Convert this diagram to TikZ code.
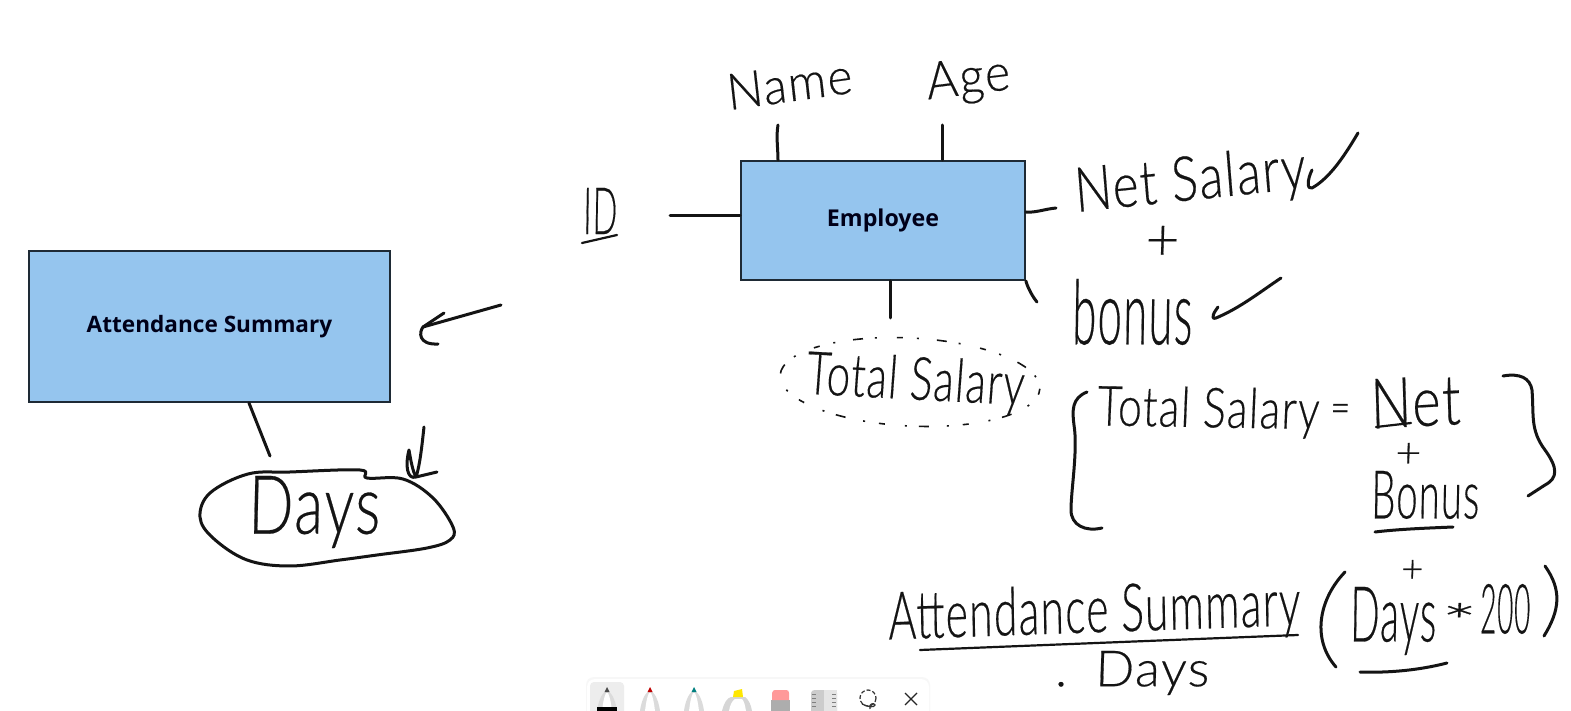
\documentclass[tikz,border=0pt]{standalone}
\usepackage{fontspec}
\usepackage{graphicx}
\setmainfont{Liberation Sans}
\newfontfamily\handf[FakeSlant=0.03,FakeBold=0.35,LetterSpace=3]{Lato Light}
\newfontfamily\boxf{Open Sans}
\newdimen\pxu \pxu=0.5pt
\newcommand{\hwn}[3]{\resizebox*{#1\pxu}{#2\pxu}{\handf #3}}
\definecolor{boxblue}{HTML}{95C5EE}
\definecolor{boxedge}{HTML}{1E2A35}
\definecolor{inkc}{HTML}{141414}
\tikzset{
  entity/.style={draw=boxedge,line width=1pt,fill=boxblue,inner sep=0pt,text=black!90!blue},
  ink/.style={draw=inkc,line width=1.5pt,line cap=round,line join=round},
  thinink/.style={draw=inkc,line width=1.1pt,line cap=round,line join=round},
  hand/.style={inner sep=0pt,outer sep=0pt,text=inkc},
}
\begin{document}
\begin{tikzpicture}[x=0.5pt,y=-0.5pt]
\useasboundingbox (0,0) rectangle (1571,711);
\fill[white] (0,0) rectangle (1571,711);
% left part
\node[entity,minimum width=180.5pt,minimum height=75.5pt,font=\boxf\bfseries\fontsize{11.3}{13}\selectfont] (att) at (209.5,326.5) {\raisebox{-1pt}{Attendance Summary}};
\node[hand] (dayl) at (314,512) {\hwn{132}{72}{Days}};
\coordinate (dayEnd) at (270,456);
\coordinate (arrowTail) at (501,305);
\coordinate (arrowTip) at (423,327);
\draw[ink] (att.south -| 249,0) -- (dayEnd);
\draw[ink] (arrowTail) -- (arrowTip);
\draw[ink] (444,313) -- (arrowTip) .. controls (419,332) and (418,345) .. (438,344);
\draw[ink] (424,427) .. controls (422,445) and (420,465) .. (416,477) .. controls (407,480) and (405,465) .. (409,450) .. controls (411,462) and (413,472) .. (416,477) -- (437,472);
\draw[ink] plot[smooth cycle,tension=0.6] coordinates {(248,474) (290,472) (360,470) (367,478) (403,479) (433,498) (453,527) (450,540) (427,548) (377,555) (340,560) (290,566) (247,560) (213,538) (200,517) (210,493)};
% middle and right part
\begin{scope}[shift={(2,1)}]
\node[entity,minimum width=142pt,minimum height=59.5pt,font=\boxf\bfseries\fontsize{11.6}{13}\selectfont] (emp) at (881,219.5) {\raisebox{-1.5pt}{Employee}};
\node[hand,rotate=8] (name) at (787,83) {\hwn{126}{36}{Name}};
\node[hand,rotate=7] (age) at (966,80) {\hwn{84}{46}{Age}};
\node[hand] (idl) at (598,210) {\hwn{34}{46}{ID}};
\node[hand,rotate=6] (net) at (1188,182) {\hwn{232}{56}{Net Salary}};
\node[hand] (p1) at (1160,242) {\hwn{34}{34}{+}};
\node[hand] (bonus) at (1130,311) {\hwn{120}{66}{bonus}};
\node[hand,rotate=-3] (total) at (913,382) {\hwn{218}{54}{Total Salary}};
\node[hand,rotate=-1] (totf) at (1206,411) {\hwn{222}{50}{Total Salary}};
\node[hand] (eq) at (1338,412) {\hwn{20}{18}{=}};
\node[hand,rotate=3] (netf) at (1413,401) {\hwn{90}{50}{Net}};
\node[hand] (p2) at (1406,454) {\hwn{26}{24}{+}};
\node[hand] (bonf) at (1423,494) {\hwn{108}{48}{Bonus}};
\node[hand,rotate=2] (asum) at (1092,613) {\hwn{412}{60}{Attendance Summary}};
\node[hand] (dayb) at (1130,672) {\hwn{154}{44}{.\kern0.55em Days}};
\node[hand] (dayf) at (1391,620) {\hwn{86}{68}{Days}};
\node[hand] (p3) at (1410,570) {\hwn{22}{22}{+}};
\node[hand] (st) at (1456,620) {\hwn{36}{36}{*}};
\node[hand] (two) at (1503,608) {\hwn{50}{50}{200}};
% connectors
\coordinate (nameEnd) at (776,124);
\coordinate (ageEnd) at (940,124);
\coordinate (idEnd) at (668,215);
\coordinate (totEnd) at (888,317);
\coordinate (netEnd) at (1054,207);
\coordinate (bonEnd) at (1035,301);
\draw[ink] (nameEnd) .. controls (774,135) and (776,148) .. (nameEnd |- emp.north);
\draw[ink] (ageEnd) -- (ageEnd |- emp.north);
\draw[ink] (idEnd) -- (emp.west |- idEnd);
\draw[ink] (totEnd) -- (totEnd |- emp.south);
\draw[ink] (netEnd) .. controls (1043,208) and (1033,212) .. (emp.east |- 0,211);
\draw[ink] (emp.south east) .. controls (1024,282) and (1029,294) .. (bonEnd);
% underlines
\draw[thinink] (580,242) -- (615,234);
\draw[thinink] (1374,426) -- (1409,422);
\draw[ink] (1373,531) .. controls (1398,528) and (1428,527) .. (1451,526);
\draw[thinink] (918,649) -- (1296,634);
\draw[ink] (1358,671) .. controls (1388,672) and (1418,669) .. (1445,662);
% checks
\draw[ink] (1310,169) .. controls (1305,179) and (1305,189) .. (1310,187) .. controls (1328,177) and (1343,154) .. (1356,132);
\draw[ink] (1216,306) .. controls (1212,311) and (1208,319) .. (1214,317) .. controls (1238,307) and (1258,291) .. (1279,277);
% braces
\draw[ink] (1085,391) .. controls (1070,397) and (1070,409) .. (1072,424) .. controls (1076,449) and (1069,489) .. (1069,509) .. controls (1069,524) and (1083,531) .. (1100,527);
\draw[ink] (1501,375) .. controls (1518,372) and (1528,377) .. (1530,389) .. controls (1532,414) and (1528,429) .. (1543,449) .. controls (1556,467) and (1556,477) .. (1543,484) -- (1526,495);
% parentheses
\draw[ink] (1343,571) .. controls (1316,599) and (1310,639) .. (1334,666);
\draw[ink] (1543,565) .. controls (1560,589) and (1558,609) .. (1542,635);
% dotted ellipse
\draw[inkc,line width=0.8pt,dash pattern=on 3pt off 7pt on 1pt off 9pt on 5pt off 6pt on 1pt off 10pt,rotate around={-3:(908,381)}] (908,381) ellipse [x radius=130,y radius=44];
% toolbar
\fill[black!3] (584,710) -- (584,684) arc[start angle=180,end angle=270,radius=8] -- (920,676) arc[start angle=270,end angle=360,radius=8] -- (928,710) -- cycle;
\fill[white] (585,710) -- (585,686) arc[start angle=180,end angle=270,radius=8] -- (919,678) arc[start angle=270,end angle=360,radius=8] -- (927,710) -- cycle;
\fill[black!7] (588,710) -- (588,685) arc[start angle=180,end angle=270,radius=4] -- (618,681) arc[start angle=270,end angle=360,radius=4] -- (622,710) -- cycle;
\foreach \px/\tipc in {605/black!70,648/red!75!black,692/teal}{
  \fill[black!14] (\px-10,710) .. controls (\px-9,702) and (\px-6,694) .. (\px-2.5,691) -- (\px+2.5,691) .. controls (\px+6,694) and (\px+9,702) .. (\px+10,710) -- cycle;
  \fill[white] (\px-5,710) .. controls (\px-4,702) and (\px-3,696) .. (\px-1,692) -- (\px+1,692) .. controls (\px+3,696) and (\px+4,702) .. (\px+5,710) -- cycle;
  \fill[\tipc] (\px-2.5,691) -- (\px,686) -- (\px+2.5,691) -- cycle;
}
\fill[black] (595,706) rectangle (615,710);
\fill[black!16] (720,710) .. controls (722,702) and (725,697) .. (729,696) -- (743,696) .. controls (747,699) and (749,704) .. (750,710) -- cycle;
\fill[white] (727,710) .. controls (728,704) and (730,700) .. (733,698) -- (740,698) .. controls (742,700) and (743,704) .. (744,710) -- cycle;
\fill[yellow!90!orange] (731,696) -- (732,690) -- (740,688) -- (741,696) -- cycle;
\fill[black!32] (769,699) rectangle (788,710);
\fill[pink!80!red] (770,699) -- (770,692) .. controls (770,690) and (772,689) .. (773,689) -- (784,689) .. controls (786,689) and (787,690) .. (787,692) -- (787,699) -- cycle;
\fill[black!20] (809,710) -- (809,692) .. controls (809,690) and (811,689) .. (813,689) -- (831,689) .. controls (833,689) and (835,690) .. (835,692) -- (835,710) -- cycle;
\fill[black!10] (822,689) rectangle (835,710);
\foreach \ty in {693,697,701,705}{\draw[black!50,line width=0.4pt] (810,\ty) -- (814,\ty) (830,\ty) -- (834,\ty);}
\draw[black!80,line width=0.6pt,dash pattern=on 2pt off 1pt] (866,697) circle [radius=8];
\draw[black!80,line width=0.6pt] (860,703) .. controls (866,706) and (872,707) .. (873,704) .. controls (872,701) and (866,703) .. (868,708);
\draw[black!85,line width=0.6pt] (903,692) -- (915,704) (915,692) -- (903,704);
\end{scope}
\end{tikzpicture}
\end{document}
